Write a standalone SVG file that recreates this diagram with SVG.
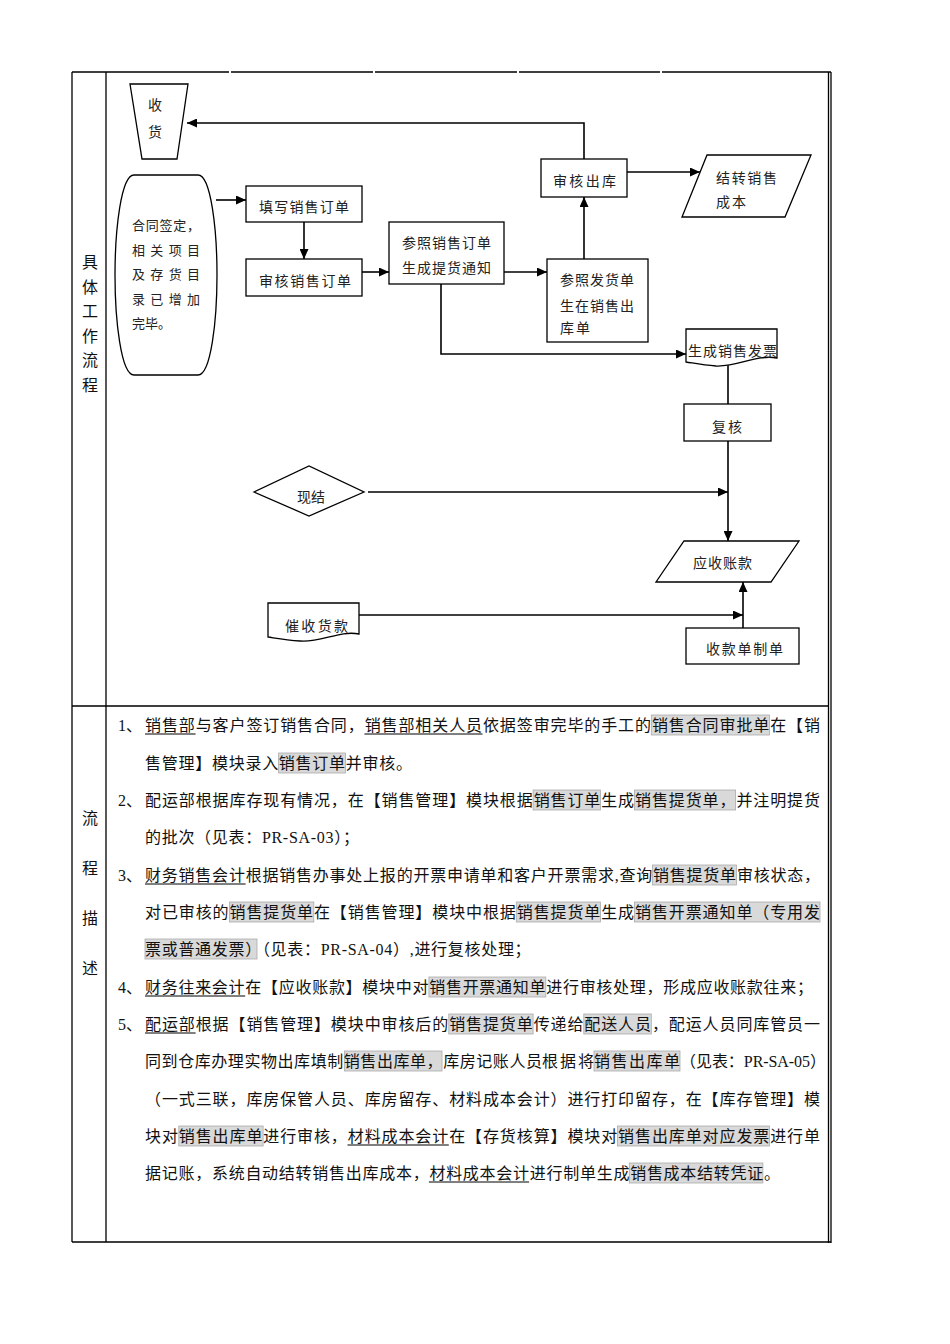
<svg xmlns="http://www.w3.org/2000/svg" width="950" height="1344" viewBox="0 0 950 1344">
<style>
.box{fill:#fff;stroke:#000;stroke-width:1.3}
.conn{fill:none;stroke:#000;stroke-width:1.6}
.tbl{fill:none;stroke:#000;stroke-width:1.3}
.t{font-family:"Liberation Serif","Noto Sans CJK SC",serif;font-size:14px;fill:#222;dominant-baseline:central}
.s13{font-size:13px}
.lbl{font-family:"Liberation Serif","Noto Sans CJK SC",serif;font-size:16px;fill:#111;text-anchor:middle;dominant-baseline:central}
.d{font-family:"Liberation Serif","Noto Sans CJK SC",serif;font-size:16px;fill:#111;dominant-baseline:central}
.nat{letter-spacing:0.7px}
.hl{fill:#d9d9d9;stroke:#ababab;stroke-width:0.8}
.ul{stroke:#000;stroke-width:1}
</style>
<defs>
<marker id="arr" markerUnits="userSpaceOnUse" markerWidth="11" markerHeight="9" refX="10" refY="4.5" orient="auto">
<path d="M0,0 L10,4.5 L0,9 Z" fill="#000"/>
</marker>
</defs>
<rect x="0" y="0" width="950" height="1344" fill="#fff"/>

<g id="table">
<path class="tbl" d="M72,72 H229 M231,72 H373 M375,72 H517 M519,72 H660 M662,72 H831"/>
<path class="tbl" d="M72,72 V1242 M106,72 V1242 M828.5,72 V1243 M831,72 V1243 M72,706 H829 M72,1242 H831"/>
<text class="lbl" x="90" y="262">具</text>
<text class="lbl" x="90" y="287">体</text>
<text class="lbl" x="90" y="311">工</text>
<text class="lbl" x="90" y="336">作</text>
<text class="lbl" x="90" y="360">流</text>
<text class="lbl" x="90" y="385">程</text>
<text class="lbl" x="90" y="818">流</text>
<text class="lbl" x="90" y="868">程</text>
<text class="lbl" x="90" y="918">描</text>
<text class="lbl" x="90" y="968">述</text>
</g>

<g id="connectors">
<path class="conn" marker-end="url(#arr)" d="M584,159 V123 H187"/>
<path class="conn" marker-end="url(#arr)" d="M216,200 H246"/>
<path class="conn" marker-end="url(#arr)" d="M304,222 V259"/>
<path class="conn" marker-end="url(#arr)" d="M362,272 H389"/>
<path class="conn" marker-end="url(#arr)" d="M504,272 H547"/>
<path class="conn" marker-end="url(#arr)" d="M584,259 V197"/>
<path class="conn" marker-end="url(#arr)" d="M627,172 H700"/>
<path class="conn" marker-end="url(#arr)" d="M441,284 V354 H686"/>
<path class="conn" d="M728,364 V404"/>
<path class="conn" marker-end="url(#arr)" d="M728,441 V541"/>
<path class="conn" marker-end="url(#arr)" d="M368,492 H728"/>
<path class="conn" marker-end="url(#arr)" d="M743,628 V582"/>
<path class="conn" marker-end="url(#arr)" d="M354,615 H743"/>
</g>

<g id="n-shouhuo">
<polygon class="box" points="130,84 188,84 177,159 142,159"/>
<text class="t" x="155" y="105" text-anchor="middle">收</text>
<text class="t" x="155" y="132" text-anchor="middle">货</text>
</g>

<g id="n-hetong">
<path class="box" d="M134,175 H198 C211,175 217,230 217,275 C217,320 211,375 198,375 H134 C121,375 115,320 115,275 C115,230 121,175 134,175 Z"/>
<text class="t s13" x="132" y="225" textLength="68" lengthAdjust="spacing">合同签定，</text>
<text class="t s13" x="132" y="250" textLength="68" lengthAdjust="spacing">相关项目</text>
<text class="t s13" x="132" y="274" textLength="68" lengthAdjust="spacing">及存货目</text>
<text class="t s13" x="132" y="299" textLength="68" lengthAdjust="spacing">录已增加</text>
<text class="t s13" x="132" y="323">完毕。</text>
</g>

<g id="n-tianxie">
<rect class="box" x="246" y="186" width="116" height="36"/>
<text class="t" x="259" y="207" textLength="90" lengthAdjust="spacing">填写销售订单</text>
</g>

<g id="n-shenhe-dingdan">
<rect class="box" x="246" y="259" width="116" height="37"/>
<text class="t" x="259" y="281" textLength="92" lengthAdjust="spacing">审核销售订单</text>
</g>

<g id="n-tihuo">
<rect class="box" x="389" y="222" width="115" height="62"/>
<text class="t" x="402" y="243" textLength="89" lengthAdjust="spacing">参照销售订单</text>
<text class="t" x="402" y="268" textLength="89" lengthAdjust="spacing">生成提货通知</text>
</g>

<g id="n-fahuo">
<rect class="box" x="547" y="259" width="101" height="83"/>
<text class="t" x="560" y="280" textLength="74" lengthAdjust="spacing">参照发货单</text>
<text class="t" x="560" y="306" textLength="74" lengthAdjust="spacing">生在销售出</text>
<text class="t" x="560" y="328" textLength="30" lengthAdjust="spacing">库单</text>
</g>

<g id="n-shenhe-chuku">
<rect class="box" x="541" y="159" width="86" height="38"/>
<text class="t" x="553" y="181" textLength="63" lengthAdjust="spacing">审核出库</text>
</g>

<g id="n-jiezhuan">
<polygon class="box" points="707,155 811,155 785,217 682,217"/>
<text class="t" x="716" y="178" textLength="61" lengthAdjust="spacing">结转销售</text>
<text class="t" x="716" y="202" textLength="30" lengthAdjust="spacing">成本</text>
</g>

<g id="n-fapiao">
<path class="box" d="M686,329 H777 V358 C757,354 738,367 716,366 C702,365 693,363 686,362 Z"/>
<text class="t" x="688" y="351" textLength="89" lengthAdjust="spacing">生成销售发票</text>
</g>

<g id="n-fuhe">
<rect class="box" x="684" y="404" width="87" height="37"/>
<text class="t" x="712" y="427" textLength="30" lengthAdjust="spacing">复核</text>
</g>

<g id="n-xianjie">
<polygon class="box" points="254,492 309,466 364,492 309,516"/>
<text class="t" x="297" y="497" textLength="28" lengthAdjust="spacing">现结</text>
</g>

<g id="n-yingshou">
<polygon class="box" points="684,541 799,541 771,582 656,582"/>
<text class="t" x="693" y="563" textLength="59" lengthAdjust="spacing">应收账款</text>
</g>

<g id="n-cuishou">
<path class="box" d="M268,603 H359 V634 C340,630 320,643 300,641 C285,640 275,638 268,637 Z"/>
<text class="t" x="285" y="626" textLength="63" lengthAdjust="spacing">催收货款</text>
</g>

<g id="n-shoukuan">
<rect class="box" x="686" y="628" width="113" height="36"/>
<text class="t" x="706" y="649" textLength="77" lengthAdjust="spacing">收款单制单</text>
</g>

<g id="description">
<g id="highlights">
<rect class="hl" x="651.3" y="715" width="118.1" height="20"/>
<rect class="hl" x="278.6" y="753" width="66.8" height="20"/>
<rect class="hl" x="533.1" y="790" width="67.5" height="20"/>
<rect class="hl" x="634.4" y="790" width="101.2" height="20"/>
<rect class="hl" x="652.6" y="865" width="83.8" height="20"/>
<rect class="hl" x="229.4" y="902" width="84.4" height="20"/>
<rect class="hl" x="516.3" y="902" width="84.3" height="20"/>
<rect class="hl" x="634.4" y="902" width="185.6" height="20"/>
<rect class="hl" x="145" y="939" width="112" height="20"/>
<rect class="hl" x="428.9" y="977" width="116.9" height="20"/>
<rect class="hl" x="448.8" y="1014" width="84.3" height="20"/>
<rect class="hl" x="583.8" y="1014" width="67.5" height="20"/>
<rect class="hl" x="344.5" y="1051" width="97.5" height="20"/>
<rect class="hl" x="594" y="1051" width="86" height="20"/>
<rect class="hl" x="178.8" y="1126" width="84.3" height="20"/>
<rect class="hl" x="617.5" y="1126" width="151.9" height="20"/>
<rect class="hl" x="629.3" y="1163" width="133.6" height="20"/>
</g>
<text class="d" x="118" y="725">1、</text>
<text class="d" x="145" y="725" textLength="675" lengthAdjust="spacing">销售部与客户签订销售合同，销售部相关人员依据签审完毕的手工的销售合同审批单在【销</text>
<text class="d" x="145" y="763" textLength="267" lengthAdjust="spacing">售管理】模块录入销售订单并审核。</text>
<text class="d" x="118" y="800">2、</text>
<text class="d" x="145" y="800" textLength="675" lengthAdjust="spacing">配运部根据库存现有情况，在【销售管理】模块根据销售订单生成销售提货单，并注明提货</text>
<text class="d nat" x="145" y="837">的批次（见表：PR-SA-03）；</text>
<text class="d" x="118" y="875">3、</text>
<text class="d" x="145" y="875" textLength="675" lengthAdjust="spacing">财务销售会计根据销售办事处上报的开票申请单和客户开票需求,查询销售提货单审核状态，</text>
<text class="d" x="145" y="912" textLength="675" lengthAdjust="spacing">对已审核的销售提货单在【销售管理】模块中根据销售提货单生成销售开票通知单（专用发</text>
<text class="d nat" x="145" y="949">票或普通发票）（见表：PR-SA-04）,进行复核处理；</text>
<text class="d" x="118" y="987">4、</text>
<text class="d" x="145" y="987" textLength="668" lengthAdjust="spacing">财务往来会计在【应收账款】模块中对销售开票通知单进行审核处理，形成应收账款往来；</text>
<text class="d" x="118" y="1024">5、</text>
<text class="d" x="145" y="1024" textLength="675" lengthAdjust="spacing">配运部根据【销售管理】模块中审核后的销售提货单传递给配送人员，配运人员同库管员一</text>
<text class="d" x="145" y="1061" textLength="397" lengthAdjust="spacing">同到仓库办理实物出库填制销售出库单，库房记账人员</text>
<text class="d" x="542" y="1061" textLength="52" lengthAdjust="spacing">根据将</text>
<text class="d" x="594" y="1061" textLength="86" lengthAdjust="spacing">销售出库单</text>
<text class="d" x="680" y="1061" textLength="146" lengthAdjust="spacing">（见表：PR-SA-05）</text>
<text class="d" x="145" y="1099" textLength="675" lengthAdjust="spacing">（一式三联，库房保管人员、库房留存、材料成本会计）进行打印留存，在【库存管理】模</text>
<text class="d" x="145" y="1136" textLength="675" lengthAdjust="spacing">块对销售出库单进行审核，材料成本会计在【存货核算】模块对销售出库单对应发票进行单</text>
<text class="d" x="145" y="1173" textLength="635" lengthAdjust="spacing">据记账，系统自动结转销售出库成本，材料成本会计进行制单生成销售成本结转凭证。</text>
<g id="underlines">
<path class="ul" d="M145,734 H195.6 M364.4,734 H482.5 M145,884 H245.6 M145,996 H245.2 M145,1033 H195.6 M347.5,1145 H448.8 M428.9,1182 H529.1"/>
</g>
</g>
</svg>
